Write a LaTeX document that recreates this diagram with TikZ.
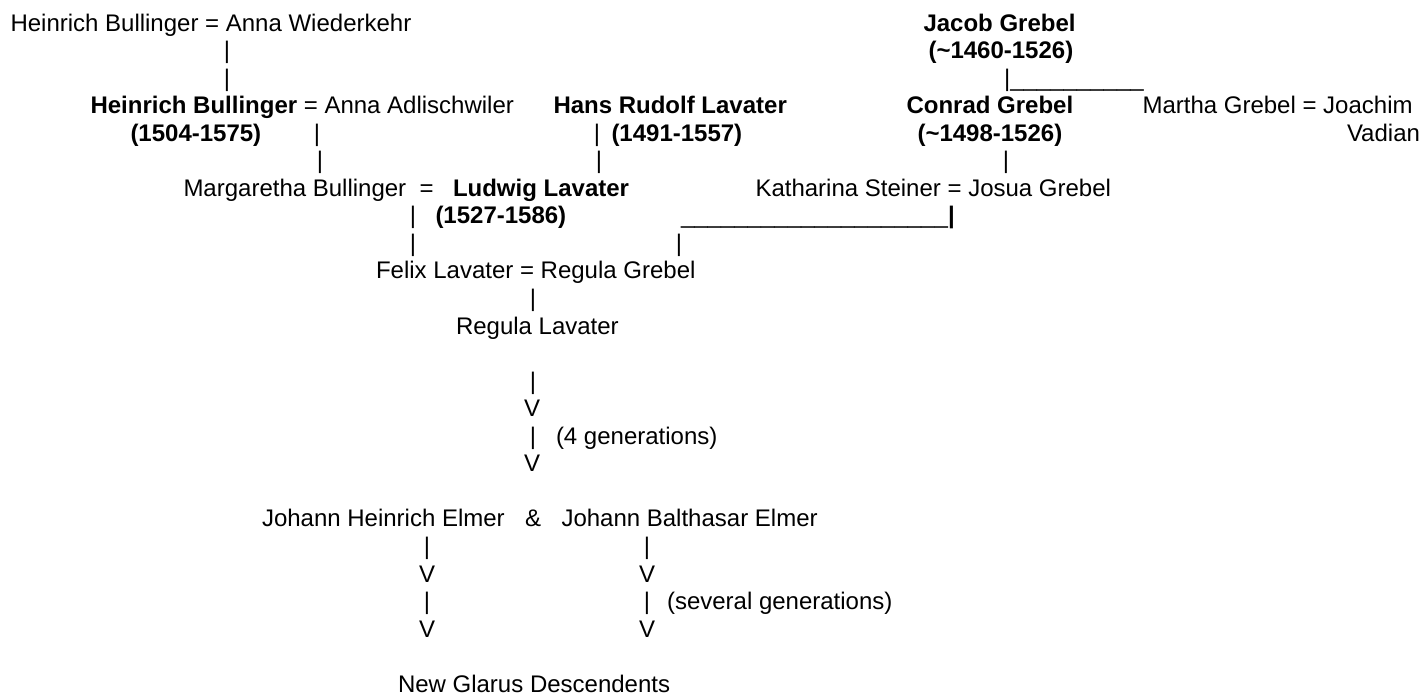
\documentclass[tikz,border=0pt]{standalone}
\usepackage{fontspec}
\setmainfont{Liberation Sans}
\begin{document}
\begin{tikzpicture}[x=1pt,y=-1pt,
  every node/.style={inner sep=0pt,outer sep=0pt,font=\fontsize{24}{28}\selectfont},
  txt/.style={anchor=base west},
  bar/.style={anchor=base},
  bold/.append style={font=\fontsize{24}{28}\selectfont\bfseries}]
\useasboundingbox (0,0) rectangle (1424,696);
% row 1
\node[txt] (hbw) at (10.5,31) {Heinrich Bullinger = Anna Wiederkehr};
\node[txt,bold] (jg) at (923.5,31) {Jacob Grebel};
% row 2
\node[bar] (b2a) at (227,58.55) {|};
\node[txt,bold] (jgd) at (928.5,58.55) {(\textasciitilde1460-1526)};
% row 3
\node[bar] (b3a) at (227,86.1) {|};
\node[txt] (jgl) at (1004,86.1) {|\_\_\_\_\_\_\_\_\_\_};
% row 4
\node[txt] (hba) at (90.5,113.65) {\textbf{Heinrich Bullinger} = Anna Adlischwiler};
\node[txt,bold] (hrl) at (553.5,113.65) {Hans Rudolf Lavater};
\node[txt,bold] (cg) at (906.5,113.65) {Conrad Grebel};
\node[txt] (mgj) at (1142.5,113.65) {Martha Grebel = Joachim};
% row 5
\node[txt,bold] (hbd) at (130.5,141.2) {(1504-1575)};
\node[bar] (b5a) at (317,141.2) {|};
\node[bar] (b5b) at (597,141.2) {|};
\node[txt,bold] (hrld) at (611.5,141.2) {(1491-1557)};
\node[txt,bold] (cgd) at (917.5,141.2) {(\textasciitilde1498-1526)};
\node[txt] (vad) at (1347,141.2) {Vadian};
% row 6
\node[bar] (b6a) at (320,168.75) {|};
\node[bar] (b6b) at (599,168.75) {|};
\node[bar] (b6c) at (1006,168.75) {|};
% row 7
\node[txt] (mb) at (183.5,196.3) {Margaretha Bullinger\ \ =};
\node[txt,bold] (ll) at (453,196.3) {Ludwig Lavater};
\node[txt] (ksj) at (755.5,196.3) {Katharina Steiner = Josua Grebel};
% row 8
\node[bar] (b8a) at (413,223.85) {|};
\node[txt,bold] (lld) at (435.5,223.85) {(1527-1586)};
\node[txt] (gl) at (681,223.85) {\_\_\_\_\_\_\_\_\_\_\_\_\_\_\_\_\_\_\_\_\textbf{|}};
% row 9
\node[bar] (b9a) at (413,251.4) {|};
\node[bar] (b9b) at (679,251.4) {|};
% row 10
\node[txt] (flrg) at (376,278.95) {Felix Lavater = Regula Grebel};
% row 11
\node[bar] (b11) at (533,306.5) {|};
% row 12
\node[txt] (rl) at (456,334.05) {Regula Lavater};
% rows 14-17
\node[bar] (b14) at (533,389.15) {|};
\node[bar] (v15) at (532,416.7) {V};
\node[bar] (b16) at (533,444.25) {|};
\node[txt] (g4) at (556,444.25) {(4 generations)};
\node[bar] (v17) at (532,471.8) {V};
% row 19
\node[txt] (jhe) at (262,526.9) {Johann Heinrich Elmer};
\node[txt] (amp) at (525,526.9) {\&};
\node[txt] (jbe) at (561.5,526.9) {Johann Balthasar Elmer};
% rows 20-23
\node[bar] (b20a) at (427,554.45) {|};
\node[bar] (b20b) at (647,554.45) {|};
\node[bar] (v21a) at (427,582) {V};
\node[bar] (v21b) at (647,582) {V};
\node[bar] (b22a) at (427,609.55) {|};
\node[bar] (b22b) at (647,609.55) {|};
\node[txt] (sg) at (667,609.55) {(several generations)};
\node[bar] (v23a) at (427,637.1) {V};
\node[bar] (v23b) at (647,637.1) {V};
% row 25
\node[txt] (ngd) at (398,692.2) {New Glarus Descendents};
\end{tikzpicture}
\end{document}
